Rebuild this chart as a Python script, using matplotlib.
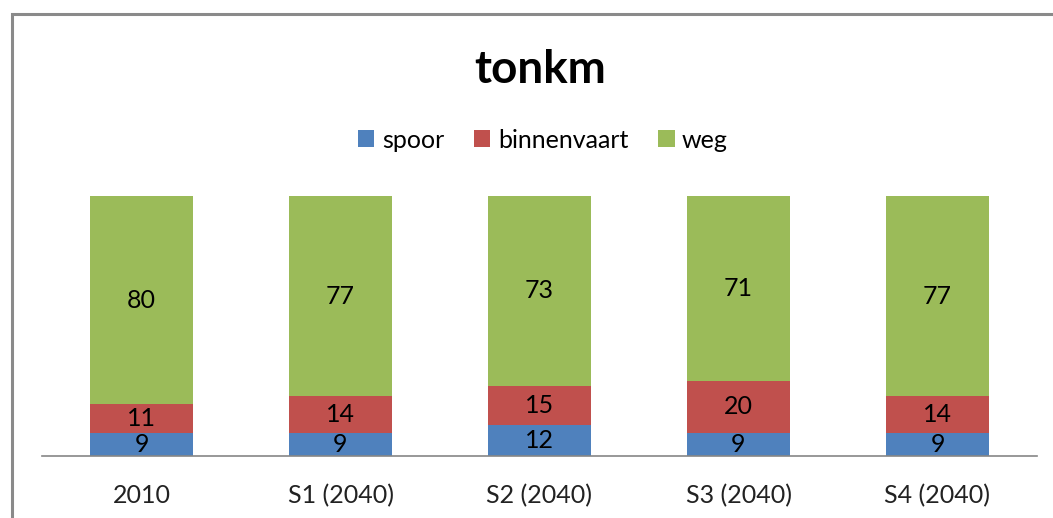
import numpy as np
import matplotlib
matplotlib.use("Agg")
import matplotlib.pyplot as plt
from matplotlib.patches import Rectangle

categories = ["2010", "S1 (2040)", "S2 (2040)", "S3 (2040)", "S4 (2040)"]
spoor = [9, 9, 12, 9, 9]
binnenvaart = [11, 14, 15, 20, 14]
weg = [80, 77, 73, 71, 77]

series = [("spoor", spoor, "#4F81BD"),
          ("binnenvaart", binnenvaart, "#C0504D"),
          ("weg", weg, "#9BBB59")]

plt.rcParams["font.family"] = ["Lato", "DejaVu Sans"]

W, H = 1053, 518
fig = plt.figure(figsize=(W / 100, H / 100), dpi=100)
fig.patch.set_facecolor("white")

# chart frame, cropped on right and bottom
fig.patches.append(Rectangle((12 / W, -0.1), 1.2, 1 - 14 / H + 0.1,
                             transform=fig.transFigure, fill=False,
                             edgecolor="#8a8a8a", lw=2.2))

ax = fig.add_axes([42 / W, 1 - 456 / H, 995 / W, 260 / H])
x = np.arange(len(categories))
bottom = np.zeros(len(categories))
handles = []
for name, vals, color in series:
    vals = np.array(vals, dtype=float)
    bars = ax.bar(x, vals, bottom=bottom, width=0.52, color=color, label=name)
    handles.append(bars)
    for xi, b, v in zip(x, bottom, vals):
        ax.text(xi, b + v / 2, f"{int(v)}", ha="center", va="center",
                fontsize=18, color="black")
    bottom += vals

ax.set_xlim(-0.5, len(categories) - 0.5)
ax.set_ylim(0, 100)
ax.set_yticks([])
ax.set_xticks(x)
ax.set_xticklabels(categories, fontsize=18, color="#222222")
ax.tick_params(axis="x", length=0, pad=20)
for s in ["top", "right", "left"]:
    ax.spines[s].set_visible(False)
ax.spines["bottom"].set_color("#868686")
ax.spines["bottom"].set_linewidth(1.2)
ax.set_facecolor("none")

fig.text(540 / W, 1 - 70 / H, "tonkm", ha="center", va="center",
         fontsize=33, fontweight="bold")

fig.legend(handles=handles, labels=[s[0] for s in series],
           loc="center", bbox_to_anchor=(543 / W, 1 - 140 / H), ncol=3,
           frameon=False, fontsize=18, handlelength=0.65, handleheight=0.65,
           handletextpad=0.3, columnspacing=1.2)

fig.savefig("out.png", dpi=100, facecolor="white")
